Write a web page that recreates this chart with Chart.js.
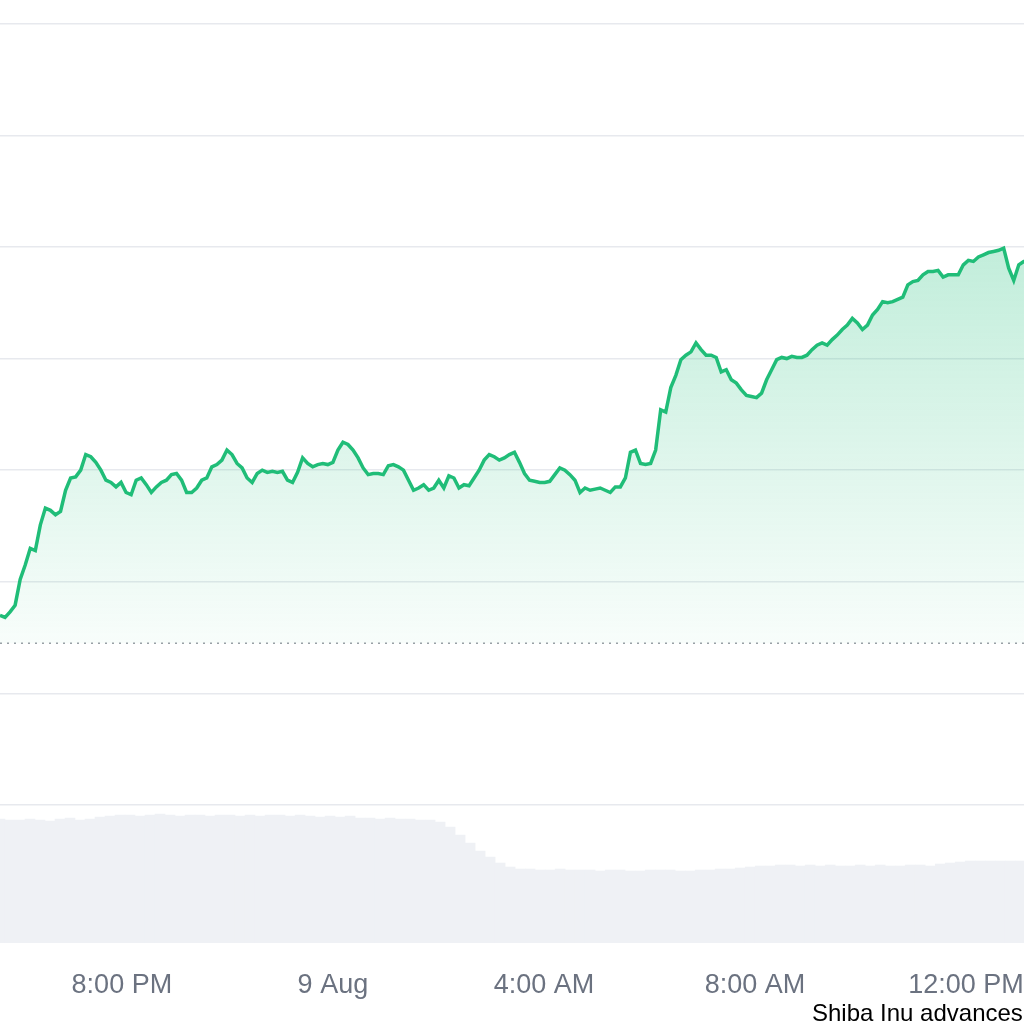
<!DOCTYPE html>
<html><head><meta charset="utf-8">
<script src="https://cdn.jsdelivr.net/npm/chart.js@4.4.0/dist/chart.umd.min.js"></script>
<style>
html,body{margin:0;padding:0;background:#fff;overflow:hidden;width:1024px;height:1024px}
#wrap{position:absolute;left:0;top:0;width:1024px;height:1000px}
#cap{position:absolute;left:812px;top:999px;font:24px "Liberation Sans",Arial,sans-serif;color:#000;white-space:nowrap}
</style></head><body>
<div id="wrap"><canvas id="c"></canvas></div>
<div id="cap">Shiba Inu advances</div>
<script>
const startHour = 17.69;
const stepHour = 0.0956;
const price = [1.70,1.68,1.73,1.79,2.02,2.15,2.30,2.28,2.51,2.66,2.64,2.60,2.63,2.82,2.93,2.94,3.00,3.14,3.12,3.07,3.00,2.91,2.89,2.85,2.89,2.80,2.78,2.91,2.93,2.87,2.80,2.85,2.89,2.91,2.96,2.97,2.91,2.80,2.80,2.84,2.91,2.93,3.03,3.05,3.09,3.18,3.14,3.06,3.02,2.93,2.89,2.97,3.00,2.98,2.99,2.98,2.99,2.91,2.89,2.98,3.11,3.06,3.03,3.05,3.06,3.05,3.07,3.18,3.25,3.23,3.18,3.11,3.02,2.96,2.97,2.97,2.96,3.04,3.05,3.03,3.00,2.91,2.82,2.84,2.87,2.82,2.84,2.91,2.84,2.95,2.93,2.84,2.87,2.86,2.93,3.00,3.09,3.14,3.12,3.09,3.11,3.14,3.16,3.07,2.97,2.91,2.90,2.89,2.89,2.90,2.96,3.02,3.00,2.96,2.91,2.80,2.84,2.82,2.83,2.84,2.82,2.80,2.85,2.85,2.93,3.16,3.18,3.06,3.05,3.06,3.18,3.54,3.52,3.74,3.85,3.99,4.03,4.06,4.14,4.08,4.03,4.03,4.01,3.88,3.90,3.81,3.78,3.72,3.67,3.66,3.65,3.69,3.81,3.90,3.99,4.01,4.00,4.02,4.01,4.01,4.03,4.08,4.12,4.14,4.12,4.17,4.21,4.26,4.30,4.36,4.32,4.26,4.30,4.39,4.44,4.51,4.50,4.51,4.53,4.55,4.66,4.69,4.70,4.75,4.78,4.78,4.79,4.73,4.75,4.75,4.75,4.84,4.88,4.87,4.91,4.93,4.95,4.96,4.97,4.99,4.81,4.70,4.84,4.87,4.88];
const volStep = 0.1896;
const volume = [124,123,123,124,123,122,124,125,123,124,126,127,128,128,127,128,129,128,127,128,128,127,128,128,127,128,127,128,128,127,128,127,126,127,126,127,125,125,124,125,124,124,123,123,121,116,108,100,92,86,80,76,74,74,73,73,74,73,73,73,72,73,73,72,72,73,73,73,72,72,73,73,74,74,75,76,77,77,78,78,77,78,77,78,77,77,78,77,78,77,77,78,78,77,79,80,81,82,82,82,82,82,82];
const prevClose = 1.45;
const tickHours = [20,24,28,32,36];
const tickLabels = {20:'8:00 PM',24:'9 Aug',28:'4:00 AM',32:'8:00 AM',36:'12:00 PM'};

const pricePts = price.map((v,i)=>({x:startHour+i*stepHour,y:v}));
const volPts = volume.map((v,i)=>({x:startHour+i*volStep,y:v}));
const xMin = startHour, xMax = 37.1;

const ctx = document.getElementById('c').getContext('2d');
new Chart(ctx,{
  data:{datasets:[
    {type:'line',data:pricePts,yAxisID:'y',borderColor:'#20bd78',borderWidth:3.5,pointRadius:0,tension:0,
     fill:{value:prevClose},
     backgroundColor:(c)=>{const a=c.chart.chartArea;if(!a)return 'rgba(31,191,122,0.1)';
       const g=c.chart.ctx.createLinearGradient(0,240,0,643);g.addColorStop(0,'rgba(31,191,122,0.28)');g.addColorStop(1,'rgba(31,191,122,0.03)');return g;},order:1},
    {type:'line',data:[{x:xMin,y:prevClose},{x:xMax,y:prevClose}],yAxisID:'y',borderColor:'#9aa0a6',borderWidth:1.5,borderDash:[2,5],pointRadius:0,fill:false,order:2},
    {type:'bar',data:volPts,yAxisID:'y2',backgroundColor:'#eff1f5',barPercentage:1,categoryPercentage:1,order:3}
  ]},
  options:{responsive:true,maintainAspectRatio:false,devicePixelRatio:1,animation:false,
    layout:{padding:0},
    plugins:{legend:{display:false},tooltip:{enabled:false}},
    scales:{
      x:{type:'linear',min:xMin,max:xMax,offset:false,grid:{display:false},border:{display:false},
        afterBuildTicks:(s)=>{s.ticks=tickHours.map(v=>({value:v}));},
        afterFit:(s)=>{s.height=57;s.paddingLeft=0;s.paddingRight=0;},
        ticks:{autoSkip:false,maxRotation:0,padding:18,color:'#6b7280',font:{family:'Liberation Sans',size:27},callback:(v)=>tickLabels[v]||''}},
      y:{min:-1.237,max:7.213,position:'left',display:true,
        afterBuildTicks:(s)=>{s.ticks=[0,1,2,3,4,5,6,7].map(v=>({value:v}));},
        afterFit:(s)=>{s.width=0;},
        ticks:{display:false},border:{display:false},grid:{color:'#e7e9ee',lineWidth:1.5,drawTicks:false}},
      y2:{min:0,max:943,display:false}
    }}
});
</script></body></html>
